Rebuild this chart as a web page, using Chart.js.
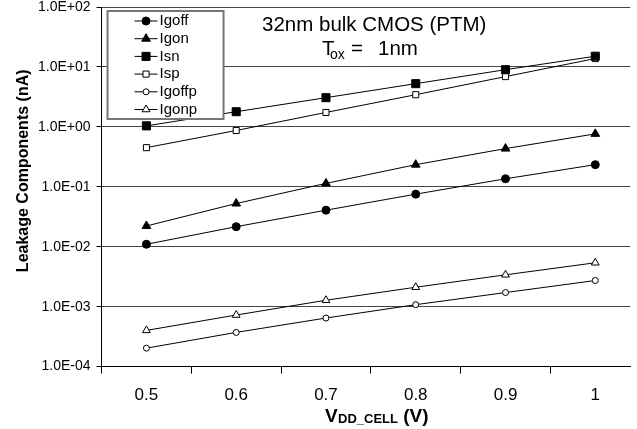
<!DOCTYPE html>
<html>
<head>
<meta charset="utf-8">
<script src="https://cdn.jsdelivr.net/npm/chart.js@4"></script>
<style>
  body { margin: 0; background: #fff; }
</style>
</head>
<body>
<canvas id="leakChart" width="637" height="429"></canvas>
<script>
const FONT = '"Liberation Sans", Arial, sans-serif'
Chart.defaults.font.family = FONT
Chart.defaults.color = '#000'

// V_DD_CELL values and their tick labels
const vdd = [0.5, 0.6, 0.7, 0.8, 0.9, 1.0]
const vddLabels = ['0.5', '0.6', '0.7', '0.8', '0.9', '1']

// leakage components (nA)
const igoff  = [0.0110, 0.0216, 0.0407, 0.0754, 0.136, 0.234]
const igon   = [0.0222, 0.0526, 0.114, 0.234, 0.434, 0.764]
const isn    = [1.04, 1.79, 3.07, 5.26, 9.0, 15.1]
const isp    = [0.45, 0.87, 1.74, 3.44, 6.9, 13.8]
const igoffp = [0.000203, 0.000372, 0.000646, 0.00108, 0.00172, 0.00273]
const igonp  = [0.000402, 0.000725, 0.00128, 0.00211, 0.0034, 0.0054]

const yTicks = [1e-4, 1e-3, 1e-2, 1e-1, 1e0, 1e1, 1e2]

const toPoints = values => values.map((y, i) => ({ x: vdd[i], y }))

const series = (label, values, pointStyle, radius, filled) => ({
    label,
    data: toPoints(values),
    borderColor: '#000',
    borderWidth: 1,
    tension: 0,
    pointStyle,
    pointRadius: radius,
    pointHoverRadius: radius,
    pointBorderColor: '#000',
    pointBorderWidth: 1,
    pointBackgroundColor: filled ? '#000' : '#fff'
})

const datasets = [
    series('Igoff', igoff, 'circle', 4, true),
    series('Igon', igon, 'triangle', 5, true),
    series('Isn', isn, 'rect', 5.7, true),
    series('Isp', isp, 'rect', 4.3, false),
    series('Igoffp', igoffp, 'circle', 3, false),
    series('Igonp', igonp, 'triangle', 4.5, false)
]

const sciLabel = v => {
    const [m, e] = v.toExponential(1).split('e')
    return m + 'E' + e[0] + e.slice(1).padStart(2, '0')
}

// no extra room for the end labels, the plot runs to the canvas edge
const noEdgePadding = scale => {
    scale.paddingTop = 0
    scale.paddingBottom = 0
    scale.paddingLeft = 0
    scale.paddingRight = 0
}

// legend box, chart title and axis titles (with subscripts)
const overlay = {
    id: 'overlay',
    afterDraw(chart) {
        const { ctx, chartArea } = chart
        ctx.save()

        // legend
        const bx = chartArea.left + 6, by = chartArea.top + 4
        ctx.fillStyle = '#fff'
        ctx.fillRect(bx, by, 116, 108)
        ctx.strokeStyle = '#777'
        ctx.lineWidth = 2
        ctx.strokeRect(bx, by, 116, 108)
        chart.data.datasets.forEach((ds, i) => {
            const y = by + 10 + i * 17.7
            ctx.strokeStyle = '#000'
            ctx.lineWidth = 1
            ctx.beginPath()
            ctx.moveTo(bx + 27, y)
            ctx.lineTo(bx + 50, y)
            ctx.stroke()
            ctx.fillStyle = ds.pointBackgroundColor
            Chart.helpers.drawPoint(ctx, {
                pointStyle: ds.pointStyle, radius: ds.pointRadius, rotation: 0, borderWidth: 1
            }, bx + 38.5, y)
            ctx.fillStyle = '#000'
            ctx.font = '15px ' + FONT
            ctx.textAlign = 'left'
            ctx.textBaseline = 'middle'
            ctx.fillText(ds.label, bx + 52, y)
        })

        // title
        ctx.fillStyle = '#000'
        ctx.textBaseline = 'alphabetic'
        ctx.textAlign = 'left'
        ctx.font = '20.5px ' + FONT
        ctx.fillText('32nm bulk CMOS (PTM)', 262, 31)
        ctx.fillText('T', 322, 55)
        ctx.font = '14px ' + FONT
        ctx.fillText('ox', 330, 59)
        ctx.font = '20.5px ' + FONT
        ctx.fillText('=', 351, 55)
        ctx.fillText('1nm', 378, 55)

        // x axis title
        ctx.font = 'bold 19px ' + FONT
        ctx.fillText('V', 325, 422)
        ctx.font = 'bold 13px ' + FONT
        ctx.fillText('DD_CELL', 338, 423)
        ctx.font = 'bold 19px ' + FONT
        ctx.fillText(' (V)', 398, 422)

        // y axis title
        ctx.translate(24, (chartArea.top + chartArea.bottom) / 2 - 16)
        ctx.rotate(-Math.PI / 2)
        ctx.textAlign = 'center'
        ctx.textBaseline = 'middle'
        ctx.font = 'bold 16px ' + FONT
        ctx.fillText('Leakage Components (nA)', 0, 0)

        ctx.restore()
    }
}

new Chart('leakChart', {
    type: 'line',
    data: { datasets },
    options: {
        responsive: false,
        animation: false,
        layout: { padding: { left: 32, top: 7, right: 0, bottom: 11 } },
        plugins: {
            legend: { display: false },
            tooltip: { enabled: false }
        },
        scales: {
            x: {
                type: 'linear',
                min: 0.45,
                max: 1.039,
                afterBuildTicks: scale => {
                    const t = []
                    vdd.forEach(v => {
                        t.push({ value: +(v - 0.05).toFixed(2) })
                        t.push({ value: v })
                    })
                    scale.ticks = t
                },
                afterFit: noEdgePadding,
                ticks: {
                    autoSkip: false,
                    maxRotation: 0,
                    padding: 12,
                    font: { size: 17 },
                    callback: (value, index) => index % 2 ? vddLabels[(index - 1) / 2] : ''
                },
                grid: {
                    drawOnChartArea: false,
                    tickLength: 7,
                    tickColor: c => c.index % 2 ? 'rgba(0,0,0,0)' : '#000'
                },
                border: { color: '#000' }
            },
            y: {
                type: 'logarithmic',
                min: 1e-4,
                max: 1e2,
                afterBuildTicks: scale => {
                    scale.ticks = yTicks.map(value => ({ value }))
                },
                afterFit: noEdgePadding,
                ticks: {
                    autoSkip: false,
                    padding: 6,
                    font: { size: 14 },
                    callback: v => sciLabel(v)
                },
                grid: {
                    color: '#444',
                    tickLength: 5,
                    tickColor: '#000'
                },
                border: { color: '#000' }
            }
        }
    },
    plugins: [overlay]
})
</script>
</body>
</html>
